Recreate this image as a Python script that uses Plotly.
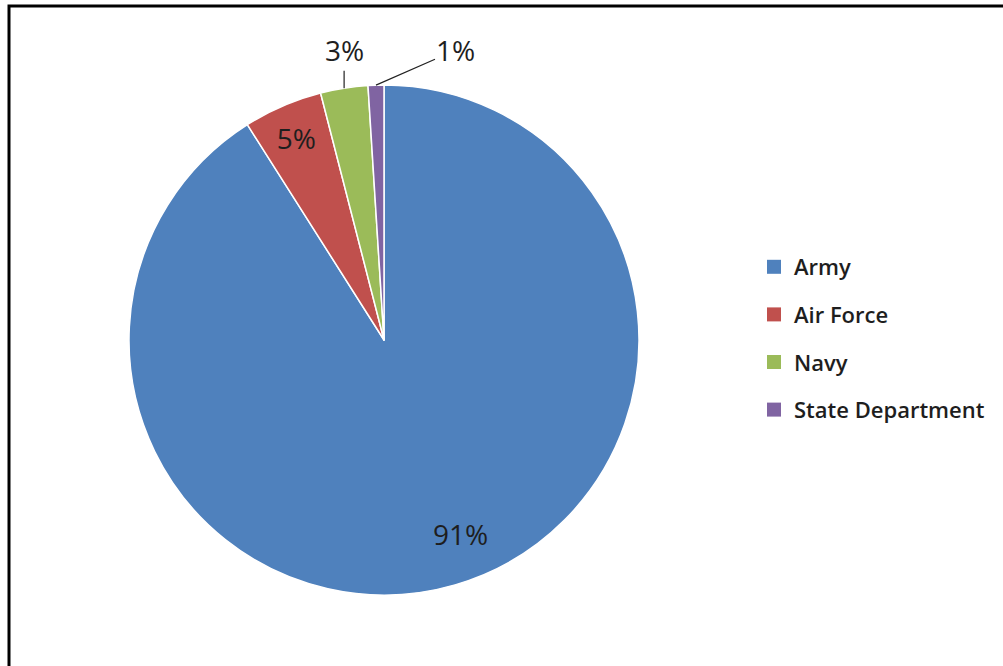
import math
import plotly.graph_objects as go

# ---- data ----
categories = ["Army", "Air Force", "Navy", "State Department"]
shares = [91, 5, 3, 1]
colors = ["#4F81BD", "#C0504D", "#9BBB59", "#8064A2"]

# ---- layout constants (pixels) ----
W, H = 1003, 666
CX, CY, R = 384, 340, 255
FONT = "Open Sans"
TXT = "#1e1e1e"

fig = go.Figure()

# pie; the Air Force label is placed by plotly inside its slice
inside_tpl = ["", "%{percent:.0%}", "", ""]
fig.add_trace(go.Pie(
    labels=categories,
    values=shares,
    sort=False,
    direction="clockwise",
    rotation=0,
    marker=dict(colors=colors, line=dict(color="white", width=1.5)),
    texttemplate=inside_tpl,
    textposition="inside",
    insidetextorientation="horizontal",
    textfont=dict(family=FONT, size=28, color=TXT),
    showlegend=False,
    hoverinfo="label+percent",
    domain=dict(x=[(CX - R) / W, (CX + R) / W],
                y=[1 - (CY + R) / H, 1 - (CY - R) / H]),
))

# legend entries (one per category, grouped for spacing)
for name, col in zip(categories, colors):
    fig.add_trace(go.Scatter(
        x=[None], y=[None], mode="markers", name=name,
        legendgroup=name,
        marker=dict(symbol="square", size=14, color=col),
    ))

# labels derived from slice mid-angles
total = sum(shares)
cum = 0
# name -> (radius fraction, arrow?, ax, ay, xshift)
label_style = {
    "Army": (0.88, False, 0, 0, 14),
    "Navy": (1.0, True, 0, -38, 0),
    "State Department": (1.0, True, 80, -35, 0),
}
annotations = []
for name, v in zip(categories, shares):
    mid = (cum + v / 2) / total * 2 * math.pi
    cum += v
    if name not in label_style:
        continue
    frac, arrow, ax, ay, xs = label_style[name]
    px = CX + frac * R * math.sin(mid)
    py = CY - frac * R * math.cos(mid)
    a = dict(
        x=px / W, y=1 - py / H, xref="paper", yref="paper",
        text=f"{round(v / total * 100)}%",
        showarrow=arrow, xshift=xs,
        font=dict(family=FONT, size=28, color=TXT),
    )
    if arrow:
        a.update(arrowhead=0, arrowwidth=1.2, arrowcolor="#222",
                 ax=ax, ay=ay, standoff=0)
    annotations.append(a)

fig.update_layout(
    width=W, height=H,
    margin=dict(l=0, r=0, t=0, b=0),
    paper_bgcolor="white", plot_bgcolor="white",
    xaxis=dict(visible=False), yaxis=dict(visible=False),
    legend=dict(x=754 / W, y=1 - 246 / H, xanchor="left", yanchor="top",
                font=dict(family=FONT, size=22, color=TXT, weight=600),
                tracegroupgap=16, bgcolor="rgba(0,0,0,0)"),
    annotations=annotations,
    shapes=[dict(type="rect", xref="paper", yref="paper",
                 x0=9 / W, x1=1.05, y0=-0.05, y1=1 - 6 / H,
                 line=dict(color="black", width=3))],
)

fig.write_html("out.html",
               config={"displayModeBar": False},
               post_script="document.body.style.margin='0';")
